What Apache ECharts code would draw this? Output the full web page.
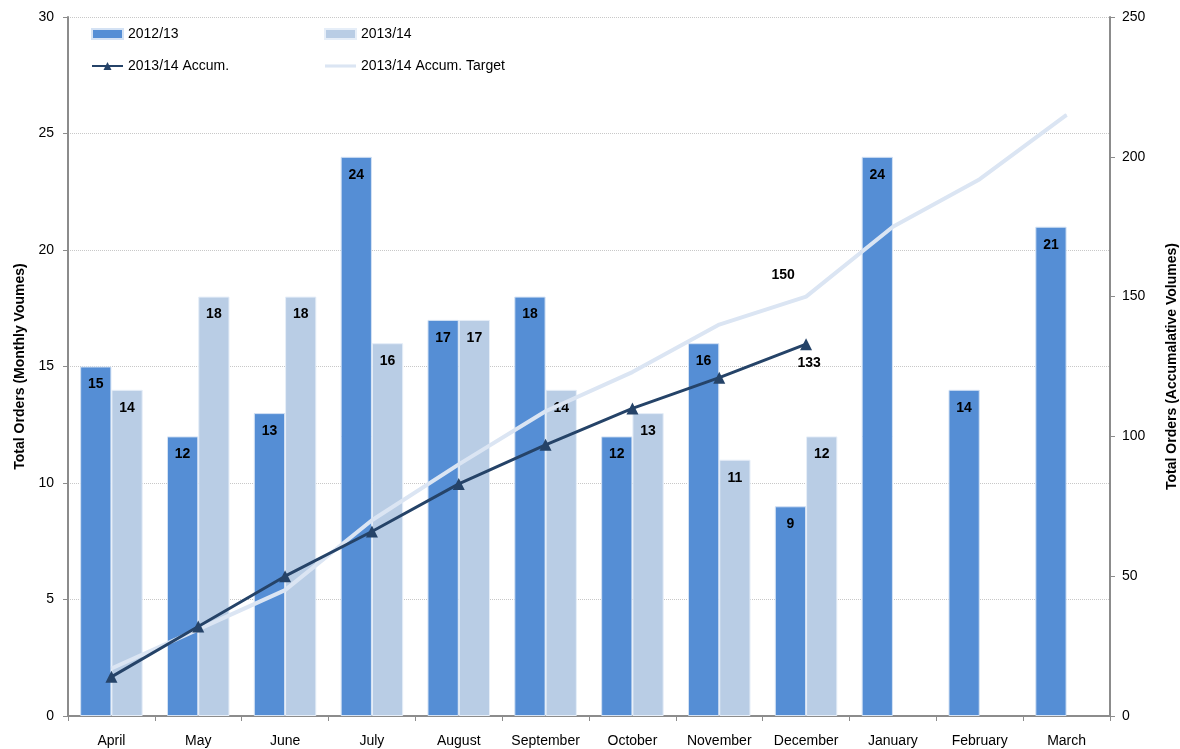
<!DOCTYPE html>
<html>
<head>
<meta charset="utf-8">
<script src="https://cdn.jsdelivr.net/npm/echarts@6/dist/echarts.min.js"></script>
<style>
html, body { margin: 0; padding: 0; background: #fff; }
#chart { width: 1180px; height: 749px; }
</style>
</head>
<body>
<div id="chart"></div>
<script>
var months = ['April', 'May', 'June', 'July', 'August', 'September', 'October', 'November', 'December', 'January', 'February', 'March'];
var orders1213 = [15, 12, 13, 24, 17, 18, 12, 16, 9, 24, 14, 21];
var orders1314 = [14, 18, 18, 16, 17, 14, 13, 11, 12, null, null, null];
var accum1314 = [14, 32, 50, 66, 83, 97, 110, 121, 133, null, null, null];
var accumTarget = [17, 31, 45, 70, 90, 109, 123, 140, 150, 175, 192, 215];

var fontFam = '"Liberation Sans", Arial, sans-serif';
var axisGrey = '#8c8c8c';

var barLabel = {
    show: true,
    position: 'insideTop',
    distance: 11,
    color: '#000',
    fontWeight: 'bold',
    fontSize: 14,
    fontFamily: fontFam
};

// only the December points carry labels on the two lines
function lastLabel(arr, idx, label) {
    return arr.map(function (v, i) {
        if (i === idx) {
            return { value: v, label: label };
        }
        return v;
    });
}

var accumData = lastLabel(accum1314, 8, {
    show: true, position: 'bottom', distance: 6, offset: [3, 0],
    color: '#000', fontWeight: 'bold', fontSize: 14, fontFamily: fontFam
});
var targetData = lastLabel(accumTarget, 8, {
    show: true, position: 'top', distance: 14, offset: [-23, 0],
    color: '#000', fontWeight: 'bold', fontSize: 14, fontFamily: fontFam
});

var chart = echarts.init(document.getElementById('chart'));

var legendText = { fontSize: 14, color: '#000', fontFamily: fontFam };

var options = {
    animation: false,
    textStyle: { fontFamily: fontFam },
    grid: { left: 68, right: 70, top: 17, bottom: 33, containLabel: false, outerBoundsMode: 'none' },
    legend: [
        {
            orient: 'vertical',
            left: 86, top: 22,
            itemGap: 18, itemWidth: 31, itemHeight: 10,
            textStyle: legendText,
            data: [
                { name: '2012/13', icon: 'rect' },
                { name: '2013/14 Accum.' }
            ]
        },
        {
            orient: 'vertical',
            left: 319, top: 22,
            itemGap: 18, itemWidth: 31, itemHeight: 10,
            textStyle: legendText,
            data: [
                { name: '2013/14', icon: 'rect' },
                { name: '2013/14 Accum. Target', icon: 'path://M0,0 L30,0 L30,3 L0,3 Z' }
            ]
        }
    ],
    xAxis: {
        type: 'category',
        data: months,
        axisLine: { lineStyle: { color: axisGrey, width: 2 } },
        axisTick: { show: true, length: 5, lineStyle: { color: axisGrey, width: 1 } },
        axisLabel: { interval: 0, color: '#000', fontSize: 14, margin: 18, fontFamily: fontFam }
    },
    yAxis: [
        {
            type: 'value',
            min: 0, max: 30, interval: 5,
            name: 'Total Orders (Monthly Voumes)',
            nameLocation: 'middle',
            nameRotate: 90,
            nameGap: 38,
            nameTextStyle: { fontSize: 14, fontWeight: 'bold', color: '#000', fontFamily: fontFam },
            axisLine: { show: true, lineStyle: { color: axisGrey, width: 2 } },
            axisTick: { show: true, length: 5, lineStyle: { color: axisGrey } },
            axisLabel: { color: '#000', fontSize: 14, margin: 14, fontFamily: fontFam },
            splitLine: { show: true, lineStyle: { color: '#c8c8c8', type: 'dotted', width: 1 } }
        },
        {
            type: 'value',
            min: 0, max: 250, interval: 50,
            name: 'Total Orders (Accumalative Volumes)',
            nameLocation: 'middle',
            nameRotate: 90,
            nameGap: 55,
            nameTextStyle: { fontSize: 14, fontWeight: 'bold', color: '#000', fontFamily: fontFam },
            axisLine: { show: true, lineStyle: { color: axisGrey, width: 2 } },
            axisTick: { show: true, length: 5, lineStyle: { color: axisGrey } },
            axisLabel: { color: '#000', fontSize: 14, margin: 12, fontFamily: fontFam },
            splitLine: { show: false }
        }
    ],
    series: [
        {
            name: '2012/13',
            type: 'bar',
            data: orders1213,
            barGap: '0%',
            barCategoryGap: '28%',
            itemStyle: { color: '#558ed5', borderColor: '#d4e2f4', borderWidth: 1 },
            label: barLabel
        },
        {
            name: '2013/14',
            type: 'bar',
            data: orders1314,
            itemStyle: { color: '#b9cde5', borderColor: '#e6eef8', borderWidth: 1 },
            label: barLabel
        },
        {
            name: '2013/14 Accum. Target',
            type: 'line',
            yAxisIndex: 1,
            data: targetData,
            symbol: 'circle',
            symbolSize: 1,
            lineStyle: { color: '#dbe5f3', width: 4 },
            itemStyle: { color: '#dbe5f3' },
            z: 3
        },
        {
            name: '2013/14 Accum.',
            type: 'line',
            yAxisIndex: 1,
            data: accumData,
            symbol: 'triangle',
            symbolSize: 12,
            lineStyle: { color: '#254368', width: 3 },
            itemStyle: { color: '#254368' },
            z: 4
        }
    ]
};

chart.setOption(options);

window.onresize = function () {
    chart.resize();
};
</script>
</body>
</html>
